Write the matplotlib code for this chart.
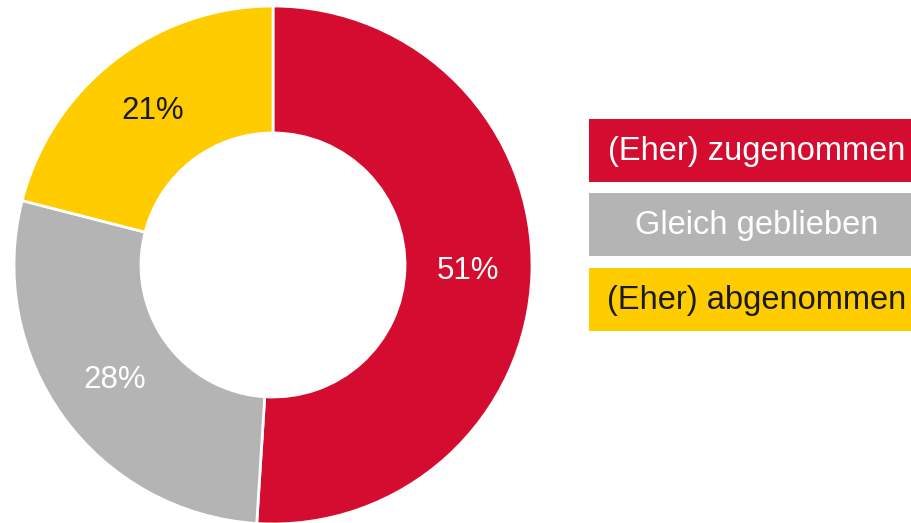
import matplotlib
matplotlib.use("Agg")
import matplotlib.pyplot as plt
from matplotlib.patches import Rectangle

plt.rcParams['font.family'] = ['Liberation Sans', 'DejaVu Sans']

categories = ["(Eher) zugenommen", "Gleich geblieben", "(Eher) abgenommen"]
values = [51, 28, 21]
colors = ["#D40C2F", "#B4B4B4", "#FFCC00"]
label_colors = ["white", "white", "#1a1a1a"]
legend_text_colors = ["white", "white", "#1a1a1a"]

W, H = 912, 523
fig = plt.figure(figsize=(W / 100, H / 100), dpi=100)
ax = fig.add_axes([0, 0, 1, 1])

R_out, R_in = 259, 132
cx, cy = 273, H - 265

wedges, texts, autotexts = ax.pie(
    values, colors=colors, startangle=90, counterclock=False,
    radius=R_out, center=(cx, cy), frame=True,
    autopct=lambda p: f"{p:.0f}%",
    pctdistance=(R_out + R_in) / 2 / R_out,
    wedgeprops=dict(width=R_out - R_in, edgecolor='white', linewidth=2),
    textprops=dict(fontsize=22.5),
)
for t, c in zip(autotexts, label_colors):
    t.set_color(c)
ax.set_xlim(0, W)
ax.set_ylim(0, H)
ax.set_aspect('equal')
ax.axis('off')

# legend boxes
box_x, box_w = 589, 340
box_tops = [119, 193, 268]
box_h = 63
for cat, col, tc, top in zip(categories, colors, legend_text_colors, box_tops):
    ax.add_patch(Rectangle((box_x, H - top - box_h), box_w, box_h,
                           facecolor=col, edgecolor='none', clip_on=False))
    ax.text(757, H - top - box_h / 2 - 1, cat, ha='center', va='center',
            fontsize=23.5, color=tc)

fig.savefig("out.png", dpi=100)
